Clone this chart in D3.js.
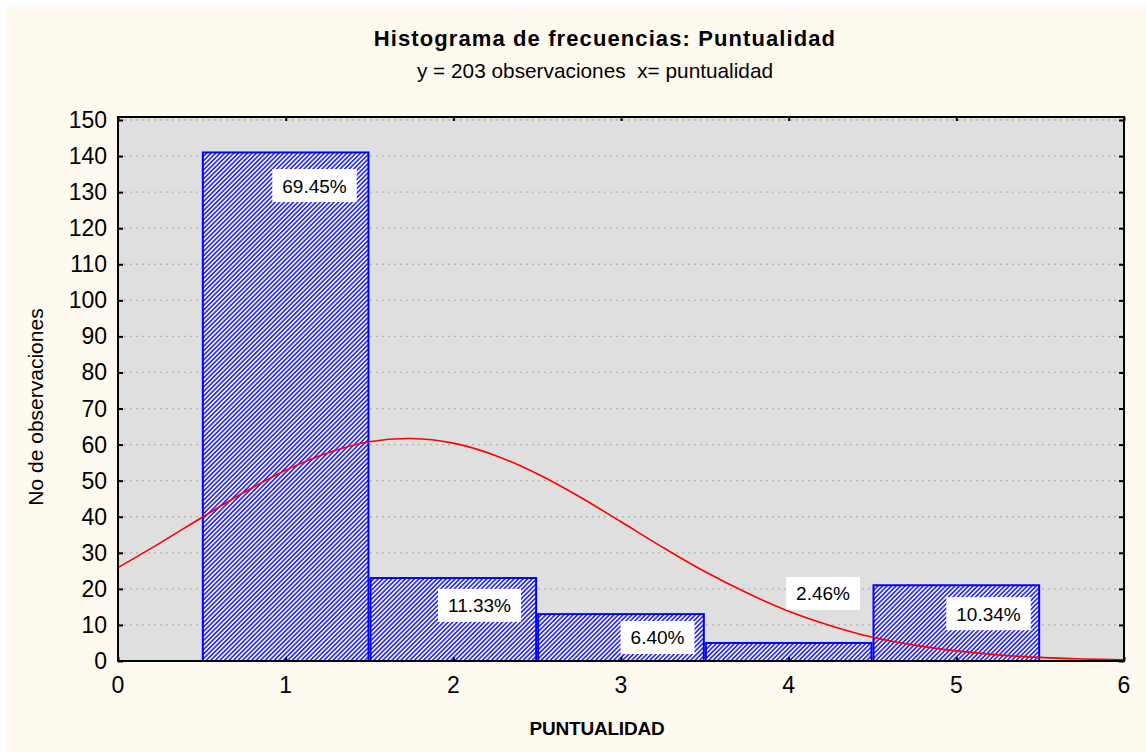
<!DOCTYPE html>
<html><head><meta charset="utf-8">
<script src="https://cdn.jsdelivr.net/npm/d3@7"></script>
<style>
html,body{margin:0;padding:0;background:#ffffff;}
svg{display:block;font-family:"Liberation Sans",Arial,sans-serif;}
</style></head>
<body>
<svg id="chart" width="1146" height="752"></svg>
<script>
// ---- data ----
const binCenters = [1, 2, 3, 4, 5];
const counts = [141, 23, 13, 5, 21];
const percentLabels = ["69.45%", "11.33%", "6.40%", "2.46%", "10.34%"];
// fitted normal curve
const curveX = [0, 0.25, 0.5, 0.75, 1, 1.25, 1.5, 1.75, 2, 2.25, 2.5, 2.75, 3, 3.25, 3.5, 3.75, 4, 4.25, 4.5, 4.75, 5, 5.25, 5.5, 5.75, 6];
const curveY = [25.9, 32.7, 39.8, 46.7, 52.9, 57.7, 60.8, 61.7, 60.4, 57.0, 51.9, 45.6, 38.6, 31.5, 24.8, 18.9, 13.8, 9.8, 6.6, 4.4, 2.8, 1.7, 1.0, 0.57, 0.31];
const xTicks = [0, 1, 2, 3, 4, 5, 6];
const yTicks = [0, 10, 20, 30, 40, 50, 60, 70, 80, 90, 100, 110, 120, 130, 140, 150];
const titleText = "Histograma de frecuencias: Puntualidad";
const subtitleText = "y = 203 observaciones  x= puntualidad";
const xTitle = "PUNTUALIDAD";
const yTitle = "No de observaciones";

// ---- layout ----
const layout = {
  plotLeft: 118, plotRight: 1124, plotTop: 117, plotBottom: 661, y150: 120,
  labelX: [1.172, 2.156, 3.218, 4.205, 5.192],
  labelTop: [136.4, 20.0, 11.1, 23.3, 17.7]
};

const svg = d3.select("#chart");
svg.append("rect").attr("x", 7).attr("y", 7).attr("width", 1139).attr("height", 745).attr("fill", "#fffaf0");

const x = d3.scaleLinear().domain([0, 6]).range([layout.plotLeft, layout.plotRight]);
const y = d3.scaleLinear().domain([0, 150]).range([layout.plotBottom, layout.y150]);

// hatch pattern
const defs = svg.append("defs");
const P = 3.2;
const pat = defs.append("pattern").attr("id", "hatch").attr("patternUnits", "userSpaceOnUse")
  .attr("width", P).attr("height", P).attr("patternTransform", "rotate(45)");
pat.append("rect").attr("width", P).attr("height", P).attr("fill", "#f4f4ff");
pat.append("line").attr("x1", P / 2).attr("y1", 0).attr("x2", P / 2).attr("y2", P)
  .attr("stroke", "#1a1aff").attr("stroke-width", 1.5);
defs.append("clipPath").attr("id", "clip").append("rect")
  .attr("x", layout.plotLeft).attr("y", layout.plotTop)
  .attr("width", layout.plotRight - layout.plotLeft).attr("height", layout.plotBottom - layout.plotTop);

// plot background
svg.append("rect").attr("x", layout.plotLeft).attr("y", layout.plotTop)
  .attr("width", layout.plotRight - layout.plotLeft).attr("height", layout.plotBottom - layout.plotTop)
  .attr("fill", "#dfdfdf");

// grid
svg.append("g").selectAll("line").data(yTicks.filter(d => d > 0)).join("line")
  .attr("x1", layout.plotLeft).attr("x2", layout.plotRight)
  .attr("y1", d => y(d)).attr("y2", d => y(d))
  .attr("stroke", "#b4b4b4").attr("stroke-width", 1.3).attr("stroke-dasharray", "2,4");

// bars
svg.append("g").selectAll("rect").data(counts).join("rect")
  .attr("x", (d, i) => x(binCenters[i] - 0.5) + 1)
  .attr("width", (d, i) => x(binCenters[i] + 0.5) - x(binCenters[i] - 0.5) - 2)
  .attr("y", d => y(d))
  .attr("height", d => y(0) - y(d))
  .attr("fill", "url(#hatch)").attr("stroke", "#0000ff").attr("stroke-width", 2);

// curve
const line = d3.line().x((d, i) => x(curveX[i])).y(d => y(d)).curve(d3.curveCatmullRom);
svg.append("path").datum(curveY).attr("d", line).attr("fill", "none")
  .attr("stroke", "#ff0000").attr("stroke-width", 1.6).attr("clip-path", "url(#clip)");

// percentage labels
const lg = svg.append("g");
percentLabels.forEach((t, i) => {
  const g = lg.append("g");
  const txt = g.append("text").text(t).attr("font-size", 19).attr("fill", "#000")
    .attr("text-anchor", "middle").attr("x", x(layout.labelX[i])).attr("y", y(layout.labelTop[i]) + 23.5);
  const w = txt.node().getComputedTextLength() + 20;
  g.insert("rect", "text").attr("x", x(layout.labelX[i]) - w / 2).attr("y", y(layout.labelTop[i]))
    .attr("width", w).attr("height", 33).attr("fill", "#ffffff");
});

// frame
svg.append("rect").attr("x", layout.plotLeft).attr("y", layout.plotTop)
  .attr("width", layout.plotRight - layout.plotLeft).attr("height", layout.plotBottom - layout.plotTop)
  .attr("fill", "none").attr("stroke", "#000").attr("stroke-width", 2);

// axes with inside ticks
const axL = svg.append("g").attr("transform", `translate(${layout.plotLeft},0)`)
  .call(d3.axisRight(y).tickValues(yTicks).tickSize(5).tickFormat(""));
const axR = svg.append("g").attr("transform", `translate(${layout.plotRight},0)`)
  .call(d3.axisLeft(y).tickValues(yTicks).tickSize(5).tickFormat(""));
const axB = svg.append("g").attr("transform", `translate(0,${layout.plotBottom})`)
  .call(d3.axisTop(x).tickValues(xTicks).tickSize(4).tickFormat(""));
const axT = svg.append("g").attr("transform", `translate(0,${layout.plotTop})`)
  .call(d3.axisBottom(x).tickValues(xTicks).tickSize(4).tickFormat(""));
[axL, axR, axB, axT].forEach(a => {
  a.select(".domain").remove();
  a.selectAll(".tick line").attr("stroke", "#000").attr("stroke-width", 2);
});

// tick labels
svg.append("g").selectAll("text").data(yTicks).join("text")
  .attr("x", 107).attr("y", d => y(d) + 8).attr("text-anchor", "end")
  .attr("font-size", 23).attr("fill", "#000").text(d => d);
svg.append("g").selectAll("text").data(xTicks).join("text")
  .attr("x", d => x(d)).attr("y", 693).attr("text-anchor", "middle")
  .attr("font-size", 23).attr("fill", "#000").text(d => d);

// titles
svg.append("text").attr("x", 605).attr("y", 46).attr("text-anchor", "middle")
  .attr("font-size", 22).attr("font-weight", "bold").attr("letter-spacing", 1.1).text(titleText);
svg.append("text").attr("x", 595).attr("y", 78).attr("text-anchor", "middle")
  .attr("font-size", 20.8).style("white-space", "pre").text(subtitleText);
svg.append("text").attr("x", 597).attr("y", 735).attr("text-anchor", "middle")
  .attr("font-size", 19).attr("font-weight", "bold").attr("letter-spacing", -0.2).text(xTitle);
svg.append("text").attr("transform", "translate(43,407) rotate(-90)").attr("text-anchor", "middle")
  .attr("font-size", 21).text(yTitle);
</script>
</body></html>
